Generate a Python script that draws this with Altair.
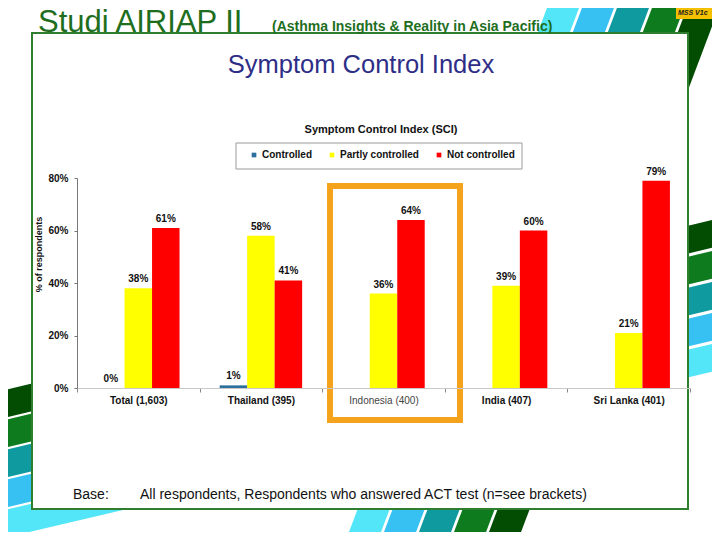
import altair as alt
import pandas as pd

# ---------------- data ----------------
categories = ["Total (1,603)", "Thailand (395)", "Indonesia (400)", "India (407)", "Sri Lanka (401)"]
series = ["Controlled", "Partly controlled", "Not controlled"]
controlled = [0, 1, None, None, None]
partly_controlled = [38, 58, 36, 39, 21]
not_controlled = [61, 41, 64, 60, 79]
series_colors = ["#2b6f9c", "#ffff00", "#ff0000"]

rows = []
for i, c in enumerate(categories):
    for s, vals in zip(series, [controlled, partly_controlled, not_controlled]):
        v = vals[i]
        if v is not None:
            rows.append({"category": c, "series": s, "value": v, "label": f"{v}%"})
df = pd.DataFrame(rows)

FONT = "Liberation Sans"
# page position of the plot origin (plot area = bar chart region)
PX0, PY0 = 77, 178
W, H = 613, 210


def px(x):
    return x - PX0


def py(y):
    return y - PY0


one = pd.DataFrame({"a": [0]})

layers = []

# ---------------- background stripes ----------------
shallow_colors = ["#024d02", "#0d7b1e", "#0e9a9e", "#36c1f2", "#52e6f8"]
for k, col in enumerate(shallow_colors):
    ya, yb = 405 + 30 * k, 232 + 31 * k
    xa, xb = -30, 750
    y1 = ya + (yb - ya) * xa / 720
    y2 = ya + (yb - ya) * xb / 720
    layers.append(
        alt.Chart(one).mark_rule(color=col, strokeWidth=27, strokeCap="butt").encode(
            x=alt.value(px(xa)), y=alt.value(py(y1)), x2=alt.value(px(xb)), y2=alt.value(py(y2))
        )
    )

steep_colors = ["#52e6f8", "#36c1f2", "#0e9a9e", "#0d7b1e", "#024d02"]
for k, col in enumerate(steep_colors):
    def xs(y, k=k):
        return 362 + 35 * k + (540 - y) * 204 / 540
    layers.append(
        alt.Chart(one).mark_rule(color=col, strokeWidth=30, strokeCap="butt").encode(
            x=alt.value(px(xs(560))), y=alt.value(py(560)),
            x2=alt.value(px(xs(-20))), y2=alt.value(py(-20))
        )
    )

# MSS badge
layers.append(
    alt.Chart(one).mark_rect(color="#f5c000").encode(
        x=alt.value(px(676)), x2=alt.value(px(722)), y=alt.value(py(-2)), y2=alt.value(py(19))
    )
)
layers.append(
    alt.Chart(one).mark_text(text="MSS V1c", font=FONT, fontSize=7, fontStyle="italic",
                             fontWeight="bold", color="#222", align="left", baseline="middle").encode(
        x=alt.value(px(678)), y=alt.value(py(13))
    )
)

# white slide box
layers.append(
    alt.Chart(one).mark_rect(fill="white", stroke="#2f7d2f", strokeWidth=2).encode(
        x=alt.value(px(32)), x2=alt.value(px(688)), y=alt.value(py(33)), y2=alt.value(py(509))
    )
)

# header texts
layers.append(
    alt.Chart(one).mark_text(text="Studi AIRIAP II", font=FONT, fontSize=31, color="#1e6e1e",
                             align="left", baseline="alphabetic").encode(
        x=alt.value(px(38)), y=alt.value(py(32))
    )
)
layers.append(
    alt.Chart(one).mark_text(text="(Asthma Insights & Reality in Asia Pacific)", font=FONT, fontSize=14,
                             fontWeight="bold", color="#1e6e1e", align="left", baseline="alphabetic").encode(
        x=alt.value(px(272)), y=alt.value(py(31))
    )
)
layers.append(
    alt.Chart(one).mark_text(text="Symptom Control Index", font=FONT, fontSize=25.5, color="#2e2e87",
                             align="center", baseline="middle").encode(
        x=alt.value(px(361)), y=alt.value(py(65))
    )
)
layers.append(
    alt.Chart(one).mark_text(text="Symptom Control Index (SCI)", font=FONT, fontSize=11, fontWeight="bold",
                             color="#111", align="center", baseline="middle").encode(
        x=alt.value(px(381)), y=alt.value(py(130))
    )
)
# legend frame
layers.append(
    alt.Chart(one).mark_rect(fill="white", stroke="#9a9a9a", strokeWidth=1).encode(
        x=alt.value(px(236)), x2=alt.value(px(522)), y=alt.value(py(143)), y2=alt.value(py(169))
    )
)

# footnote
layers.append(
    alt.Chart(one).mark_text(text="Base:", font=FONT, fontSize=14, color="#111",
                             align="left", baseline="middle").encode(
        x=alt.value(px(73)), y=alt.value(py(495))
    )
)
layers.append(
    alt.Chart(one).mark_text(text="All respondents, Respondents who answered ACT test (n=see brackets)",
                             font=FONT, fontSize=14, color="#111", align="left", baseline="middle").encode(
        x=alt.value(px(140)), y=alt.value(py(495))
    )
)

# ---------------- bars ----------------
x_axis = alt.Axis(
    title=None, labelAngle=0, labelFont=FONT, labelFontSize=10,
    labelFontWeight={"condition": {"test": "datum.value === 'Indonesia (400)'", "value": "normal"}, "value": "bold"},
    labelColor={"condition": {"test": "datum.value === 'Indonesia (400)'", "value": "#444"}, "value": "#111"},
    domainColor="#c8c8c8", tickColor="#888", tickSize=4, tickBand="extent", labelPadding=3, zindex=1,
)
y_axis = alt.Axis(
    values=[0, 20, 40, 60, 80], labelExpr="datum.value + '%'", labelFont=FONT, labelFontSize=10,
    labelFontWeight="bold", labelColor="#111", domainColor="#777", tickColor="#777", tickSize=3,
    labelPadding=6, grid=False, title="% of respondents", titleFont=FONT, titleFontSize=9,
    titleFontWeight="bold", titleColor="#111", titleAngle=270, titleX=-39, titleY=76,
    titleAlign="center", titleBaseline="middle", zindex=1,
)

x_enc = alt.X("category:N", sort=categories,
              scale=alt.Scale(domain=categories, paddingInner=0, paddingOuter=0), axis=x_axis)
xoff = alt.XOffset("series:N", sort=series,
                   scale=alt.Scale(domain=series, paddingInner=0, paddingOuter=0.73))
y_enc = alt.Y("value:Q", scale=alt.Scale(domain=[0, 80]), axis=y_axis)
color = alt.Color(
    "series:N", sort=series, scale=alt.Scale(domain=series, range=series_colors),
    legend=alt.Legend(
        title=None, orient="none", direction="horizontal", legendX=px(249), legendY=py(150),
        symbolType="square", symbolSize=22, symbolStrokeWidth=0, labelFont=FONT, labelFontSize=10,
        labelFontWeight="bold", labelColor="#111", columnPadding=15, padding=0, labelOffset=3,
    ),
)

bars = alt.Chart(df).mark_bar().encode(x=x_enc, xOffset=xoff, y=y_enc, color=color)
labels = alt.Chart(df).mark_text(dy=-9, font=FONT, fontSize=10, fontWeight="bold", color="#111",
                                 baseline="middle").encode(
    x=alt.X("category:N", sort=categories), xOffset=alt.XOffset("series:N", sort=series),
    y="value:Q", text="label:N"
)
layers += [bars, labels]

# highlight box around Indonesia
layers.append(
    alt.Chart(one).mark_rect(fillOpacity=0, stroke="#f5a31c", strokeWidth=6).encode(
        x=alt.value(px(330)), x2=alt.value(px(460)), y=alt.value(py(186)), y2=alt.value(py(420))
    )
)

chart = alt.layer(*layers).properties(
    width=W, height=H, background="white",
    padding={"left": PX0 - 8, "top": PY0 - 8, "right": 712 - PX0 - W, "bottom": 532 - PY0 - H},
    autosize=alt.AutoSizeParams(type="none"),
).configure_view(stroke=None)

chart.save("out.html", embed_options={"renderer": "svg", "actions": False})
